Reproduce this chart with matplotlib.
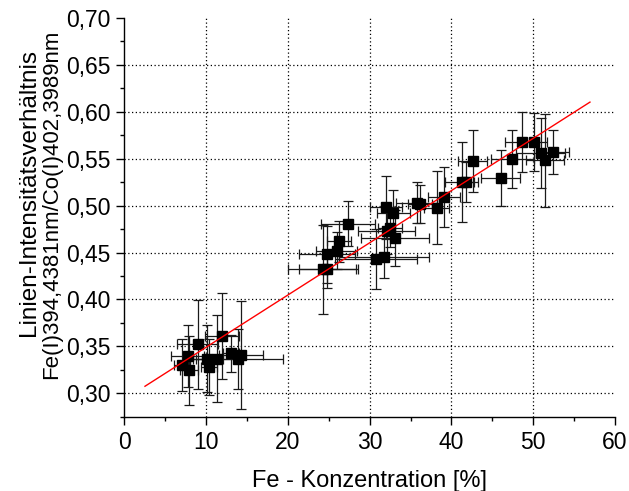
import matplotlib
matplotlib.use("Agg")
import matplotlib.pyplot as plt
from matplotlib.ticker import FuncFormatter, MultipleLocator, FixedLocator

plt.rcParams['font.family'] = ['Liberation Sans', 'DejaVu Sans']

# data: Fe concentration [%] and line intensity ratio, with errors
fe_conc = [7.10, 7.76, 7.89, 8.99, 10.09, 10.40, 11.31, 11.92, 13.06, 13.91, 14.28,
           24.34, 24.83, 24.83, 25.97, 26.26, 27.32, 30.78, 31.80, 32.00, 32.09,
           32.49, 33.11, 32.90, 35.76, 36.16, 38.20, 39.09, 41.26, 41.78, 42.60,
           46.03, 47.44, 48.67, 50.13, 50.92, 51.44, 52.38]
ratio = [0.330, 0.340, 0.3245, 0.352, 0.337, 0.328, 0.337, 0.361, 0.3426, 0.336, 0.3407,
         0.432, 0.432, 0.448, 0.452, 0.462, 0.4805, 0.4426, 0.4457, 0.498, 0.4734,
         0.4763, 0.4656, 0.4922, 0.503, 0.502, 0.4976, 0.5088, 0.5252, 0.5252, 0.548,
         0.5295, 0.5497, 0.5678, 0.5678, 0.5561, 0.5482, 0.5567]
conc_err = [1.0, 2.0, 1.1, 2.5, 2.0, 1.0, 2.5, 2.1, 1.0, 5.5, 2.7,
            4.3, 3.5, 3.4, 2.5, 1.5, 3.3, 5.0, 5.5, 2.0, 3.5,
            1.5, 4.2, 2.0, 2.5, 1.5, 1.5, 2.0, 2.0, 1.0, 1.8,
            2.4, 2.6, 2.1, 1.5, 3.0, 2.3, 2.0]
ratio_err = [0.028, 0.033, 0.037, 0.047, 0.036, 0.030, 0.046, 0.046, 0.020, 0.032, 0.058,
             0.047, 0.020, 0.030, 0.020, 0.022, 0.024, 0.032, 0.023, 0.034, 0.025,
             0.020, 0.030, 0.024, 0.022, 0.020, 0.039, 0.032, 0.043, 0.021, 0.033,
             0.030, 0.031, 0.032, 0.031, 0.037, 0.050, 0.0235]

# linear fit line
fit_x = [2.54, 56.94]
fit_slope = 0.005568
fit_intercept = 0.2933

x_ticks = [0, 10, 20, 30, 40, 50, 60]
y_ticks = [0.30, 0.35, 0.40, 0.45, 0.50, 0.55, 0.60, 0.65, 0.70]

fig = plt.figure(figsize=(6.29, 4.91), dpi=100)
W, H = 629, 491
ax = fig.add_axes([124.2 / W, 1 - 416.7 / H, (615 - 124.2) / W, (416.7 - 18) / H])

ax.errorbar(fe_conc, ratio, xerr=conc_err, yerr=ratio_err, fmt='s', color='k',
            ecolor='#1a1a1a', elinewidth=0.9, capsize=3.5, capthick=0.9, markersize=7.5,
            zorder=3)
fx = fit_x
fy = [fit_intercept + fit_slope * v for v in fx]
ax.plot(fx, fy, color='red', lw=1.0, zorder=4)

ax.set_xlim(0, 60)
ax.set_ylim(0.275, 0.70)
ax.xaxis.set_major_locator(FixedLocator(x_ticks))
ax.yaxis.set_major_locator(FixedLocator(y_ticks))
ax.xaxis.set_minor_locator(MultipleLocator(5))
ax.yaxis.set_minor_locator(MultipleLocator(0.025))
ax.yaxis.set_major_formatter(FuncFormatter(lambda v, p: f"{v:.2f}".replace('.', ',')))
ax.xaxis.set_major_formatter(FuncFormatter(lambda v, p: f"{v:.0f}"))

for s in ['top', 'right']:
    ax.spines[s].set_visible(False)
for s in ['left', 'bottom']:
    ax.spines[s].set_linewidth(1.0)

ax.tick_params(which='major', direction='out', length=6, width=1.0, labelsize=16.5, pad=4)
ax.tick_params(which='minor', direction='out', length=3, width=1.0)

ax.grid(True, which='major', color='k', linestyle=(0, (1, 2)), linewidth=0.9)
gx = ax.xaxis.get_gridlines()
gx[0].set_visible(False)
gx[-1].set_visible(False)
gy = ax.yaxis.get_gridlines()
gy[-1].set_visible(False)

ax.set_xlabel("Fe - Konzentration [%]", fontsize=17, labelpad=12)

fig.text(35 / W, 1 - 192 / H, "Linien-Intensitätsverhältnis", rotation=90,
         rotation_mode='anchor', ha='center', va='baseline', fontsize=17.5)
fig.text(57 / W, 1 - 204 / H, "Fe(I)394,4381nm/Co(I)402,3989nm", rotation=90,
         rotation_mode='anchor', ha='center', va='baseline', fontsize=16)

fig.savefig("out.png", dpi=100)
